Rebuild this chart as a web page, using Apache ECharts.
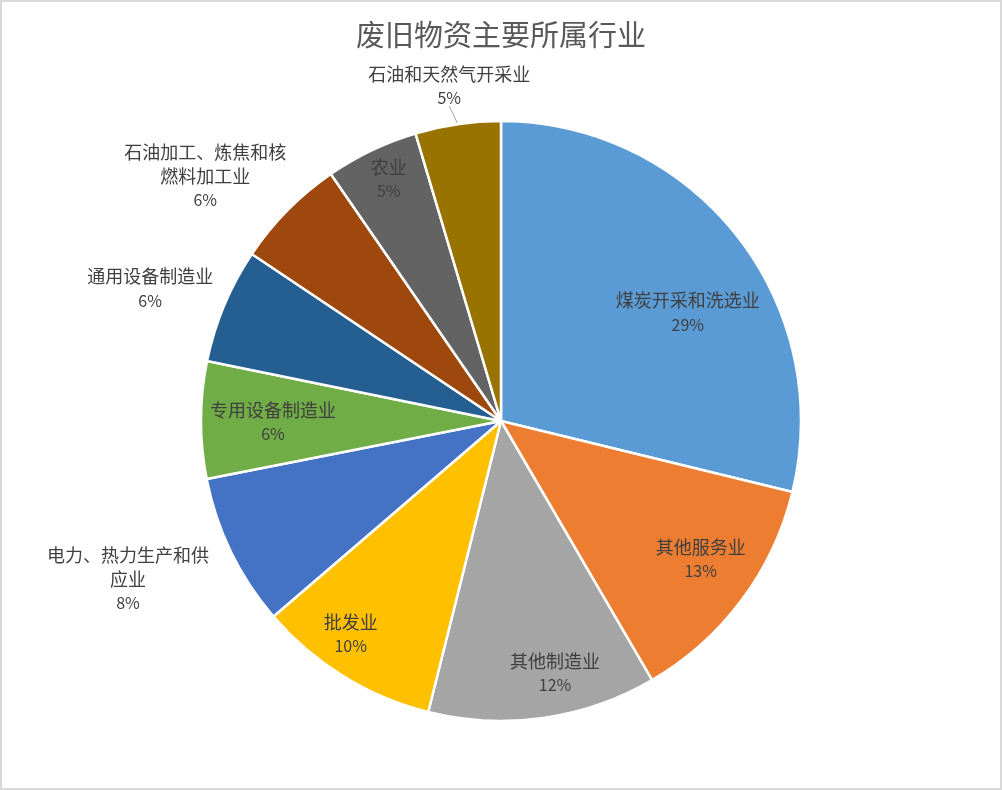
<!DOCTYPE html>
<html>
<head>
	<meta http-equiv="Content-Type" content="text/html; charset=UTF-8">
	<title>废旧物资主要所属行业</title>
	<script type="text/javascript" src="https://cdn.jsdelivr.net/npm/echarts@6/dist/echarts.min.js"></script>
	<style>
		html, body { margin: 0; padding: 0; background: #fff; }
		#show { width: 1002px; height: 790px; }
	</style>
</head>
<body>
<div id="show"></div>

<script type="text/javascript">
	// 行业名称（顺时针，从12点开始）
	var categories = ['煤炭开采和洗选业', '其他服务业', '其他制造业', '批发业', '电力、热力生产和供应业',
		'专用设备制造业', '通用设备制造业', '石油加工、炼焦和核燃料加工业', '农业', '石油和天然气开采业'];
	// 占比（%）
	var shares = [28.8, 12.8, 12.3, 9.8, 8.2, 6.3, 6.2, 6.0, 5.0, 4.6];
	var colors = ['#5B9BD5', '#ED7D31', '#A5A5A5', '#FFC000', '#4472C4',
		'#70AD47', '#255E91', '#9E480E', '#636363', '#997300'];

	// 标签放置：半径倍数、角度微调（度）
	var labelDist = [0.72, 0.81, 0.86, 0.87, 1.35, 0.76, 1.25, 1.28, 0.89, 1.13];
	var labelTurn = [8, -2, -4, 3.5, 3, -0.5, -2, -5, 0.7, -0.5];

	var cx = 501, cy = 421, R = 300;
	var total = shares.reduce(function (a, b) { return a + b; }, 0);

	function midAngle(i) {
		var cum = 0;
		for (var k = 0; k < i; k++) cum += shares[k];
		return (cum + shares[i] / 2) / total * 360 + labelTurn[i];
	}

	var data = categories.map(function (name, i) {
		var item = { name: name, value: shares[i], itemStyle: { color: colors[i] } };
		if (i === 9) {
			item.label = { position: 'outside' };
			item.labelLine = { show: true, length: 8, length2: 0, lineStyle: { color: '#A6A6A6', width: 1 } };
		}
		return item;
	});

	var myChart = echarts.init(document.getElementById('show'));

	var option = {
		backgroundColor: '#fff',
		animation: false,
		title: {
			text: '废旧物资主要所属行业',
			left: 'center',
			top: 15,
			textStyle: { fontFamily: 'Noto Sans CJK SC', fontSize: 29, fontWeight: 'normal', color: '#595959' }
		},
		graphic: [{
			type: 'rect',
			shape: { x: 1, y: 1, width: 1000, height: 788 },
			style: { fill: 'none', stroke: '#D9D9D9', lineWidth: 2 },
			silent: true
		}],
		series: [{
			type: 'pie',
			center: [cx, cy],
			radius: R,
			startAngle: 90,
			clockwise: true,
			percentPrecision: 0,
			avoidLabelOverlap: false,
			itemStyle: { borderColor: '#fff', borderWidth: 2.5 },
			label: {
				show: true,
				position: 'inside',
				formatter: function (p) {
					var n = p.name;
					var lines = n.length > 9 ? [n.slice(0, 9), n.slice(9)] : [n];
					return lines.map(function (s) { return '{n|' + s + '}'; }).join('\n') + '\n{p|' + p.percent + '%}';
				},
				rich: {
					n: { fontFamily: 'Noto Sans CJK SC', fontSize: 18, lineHeight: 24, color: '#404040', align: 'center' },
					p: { fontFamily: 'Noto Sans CJK SC', fontSize: 16, lineHeight: 24, color: '#404040', align: 'center' }
				}
			},
			labelLine: { show: false },
			labelLayout: function (params) {
				var i = params.dataIndex;
				var a = midAngle(i) * Math.PI / 180;
				return {
					x: cx + R * labelDist[i] * Math.sin(a),
					y: cy - R * labelDist[i] * Math.cos(a),
					align: 'center',
					verticalAlign: 'middle'
				};
			},
			emphasis: { disabled: true },
			data: data
		}]
	};

	myChart.setOption(option);
</script>
</body>
</html>
